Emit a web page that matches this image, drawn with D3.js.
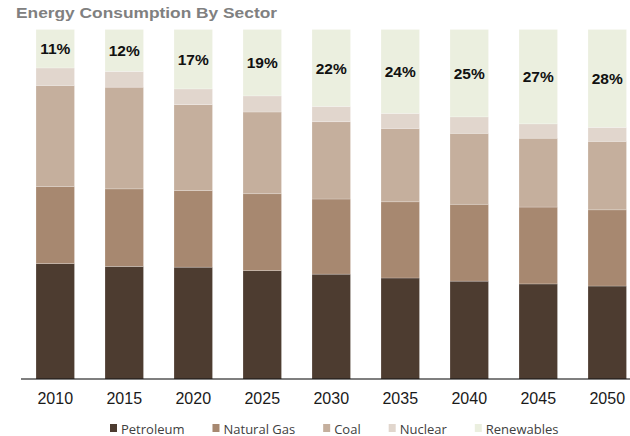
<!DOCTYPE html>
<html>
<head>
<meta charset="utf-8">
<script src="https://cdn.jsdelivr.net/npm/d3@7"></script>
<style>
  html, body { margin: 0; padding: 0; background: #ffffff; }
  svg { display: block; }
</style>
</head>
<body>
<svg id="chart" width="630" height="436"></svg>
<script>
// Share of energy consumption by sector (%), per year
const years      = ["2010", "2015", "2020", "2025", "2030", "2035", "2040", "2045", "2050"];
const petroleum  = [33.0, 32.2, 32.0, 31.0, 30.0, 28.9, 28.0, 27.2, 26.6];
const naturalGas = [22.1, 22.2, 21.9, 22.0, 21.5, 21.8, 22.0, 22.0, 21.8];
const coal       = [28.9, 29.1, 24.6, 23.4, 22.1, 21.0, 20.3, 19.7, 19.6];
const nuclear    = [5.0, 4.5, 4.5, 4.6, 4.4, 4.3, 4.7, 4.1, 4.0];
const renewables = [11, 12, 17, 19, 22, 24, 25, 27, 28];

const seriesNames  = ["Petroleum", "Natural Gas", "Coal", "Nuclear", "Renewables"];
const seriesValues = [petroleum, naturalGas, coal, nuclear, renewables];
const seriesColors = ["#4d3c30", "#a78870", "#c5af9d", "#e1d6cd", "#ebefdf"];

const rows = years.map((yr, i) => {
  const r = { year: yr };
  seriesNames.forEach((s, k) => { r[s] = seriesValues[k][i]; });
  return r;
});

const svg = d3.select("#chart");

const x = d3.scaleBand()
  .domain(years)
  .range([36, 626.5])
  .paddingInner(0.442)
  .paddingOuter(0);

const y = d3.scaleLinear()
  .domain([0, 100])
  .range([379, 29.5]);

const color = d3.scaleOrdinal().domain(seriesNames).range(seriesColors);

const stacked = d3.stack().keys(seriesNames)(rows);

// Stacked bars
svg.append("g")
  .selectAll("g")
  .data(stacked)
  .join("g")
    .attr("fill", d => color(d.key))
  .selectAll("rect")
  .data(d => d)
  .join("rect")
    .attr("x", d => x(d.data.year))
    .attr("width", x.bandwidth())
    .attr("y", d => y(d[1]))
    .attr("height", d => y(d[0]) - y(d[1]))
    .attr("stroke", "#ffffff")
    .attr("stroke-opacity", 0.35)
    .attr("stroke-width", 0.6);

// Renewables share labels, centred in the top segment
const topLayer = stacked[stacked.length - 1];
const labelSize = 15.5;
svg.append("g")
  .selectAll("text")
  .data(topLayer)
  .join("text")
    .attr("x", d => x(d.data.year) + x.bandwidth() / 2)
    .attr("y", d => (y(d[0]) + y(d[1])) / 2 + labelSize * 0.36)
    .attr("text-anchor", "middle")
    .attr("font-family", "Liberation Sans, Arial, sans-serif")
    .attr("font-weight", "bold")
    .attr("font-size", labelSize)
    .attr("fill", "#111111")
    .text(d => d.data.Renewables + "%");

// Baseline
svg.append("line")
  .attr("x1", 21).attr("x2", 630)
  .attr("y1", y(0)).attr("y2", y(0))
  .attr("stroke", "#000000")
  .attr("stroke-width", 1.2);

// Year axis
const xAxis = svg.append("g")
  .attr("transform", `translate(0,${y(0)})`)
  .call(d3.axisBottom(x).tickSize(0).tickPadding(14));
xAxis.select(".domain").remove();
xAxis.selectAll("text")
  .attr("font-family", "Liberation Sans, Arial, sans-serif")
  .attr("font-size", 16)
  .attr("fill", "#1a1a1a");

// Title
svg.append("text")
  .attr("x", 16)
  .attr("y", 17.5)
  .attr("font-family", "Liberation Sans, Arial, sans-serif")
  .attr("font-weight", "bold")
  .attr("font-size", 15.5)
  .attr("fill", "#808080")
  .attr("textLength", 261)
  .attr("lengthAdjust", "spacingAndGlyphs")
  .text("Energy Consumption By Sector");

// Legend
const legend = svg.append("g");
let lx = 110;
seriesNames.forEach(name => {
  const item = legend.append("g");
  item.append("rect")
    .attr("x", lx).attr("y", 424)
    .attr("width", 7).attr("height", 8)
    .attr("fill", color(name));
  const t = item.append("text")
    .attr("x", lx + 11).attr("y", 433.5)
    .attr("font-family", "Open Sans, sans-serif")
    .attr("font-size", 13)
    .attr("fill", "#404040")
    .text(name);
  lx += 11 + t.node().getComputedTextLength() + 28;
});
</script>
</body>
</html>
